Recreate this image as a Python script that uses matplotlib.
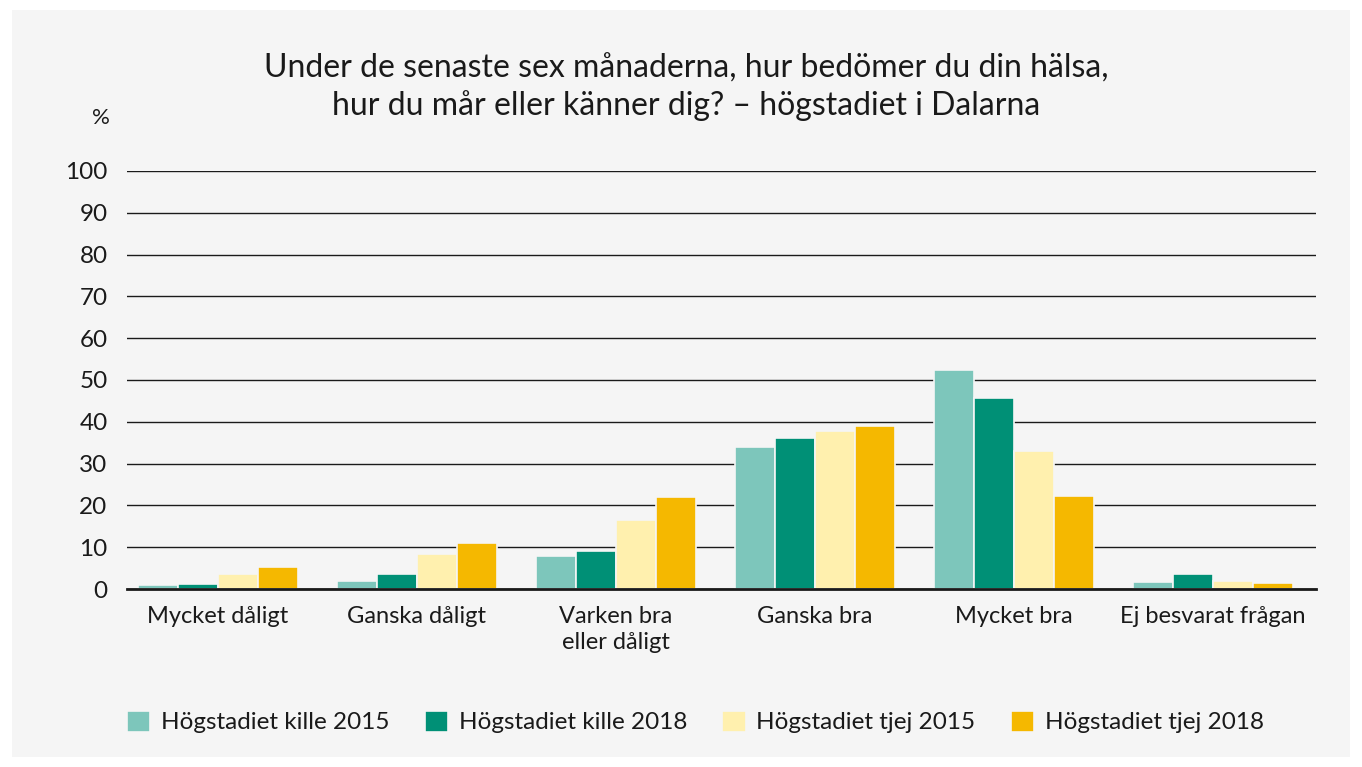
import matplotlib
matplotlib.use("Agg")
import matplotlib.pyplot as plt
import numpy as np
from matplotlib.patches import Rectangle

plt.rcParams["font.family"] = ["Lato", "DejaVu Sans"]

categories = ["Mycket dåligt", "Ganska dåligt", "Varken bra\neller dåligt",
              "Ganska bra", "Mycket bra", "Ej besvarat frågan"]
series_names = ["Högstadiet kille 2015", "Högstadiet kille 2018",
                "Högstadiet tjej 2015", "Högstadiet tjej 2018"]
kille_2015 = [0.9, 1.8, 7.8, 34.0, 52.5, 1.6]
kille_2018 = [1.3, 3.7, 9.0, 36.2, 45.8, 3.5]
tjej_2015 = [3.7, 8.4, 16.5, 37.8, 33.0, 1.8]
tjej_2018 = [5.2, 11.0, 21.9, 39.0, 22.2, 1.4]
colors = ["#7dc6bb", "#009076", "#fff0ae", "#f5b800"]
yticks = list(range(0, 101, 10))

title = ("Under de senaste sex månaderna, hur bedömer du din hälsa,\n"
         "hur du mår eller känner dig? – högstadiet i Dalarna")

fig = plt.figure(figsize=(13.62, 7.67), dpi=100, facecolor="white")
W, H = 1362, 767
fig.patches.append(Rectangle((12 / W, 10 / H), 1338 / W, 747 / H,
                             transform=fig.transFigure, facecolor="#f5f5f5",
                             edgecolor="none", zorder=-10))

ax = fig.add_axes([127 / W, 1 - 589 / H, (1316 - 127) / W, (589 - 171) / H])
ax.set_facecolor("none")

x = np.arange(len(categories))
width = 0.2
all_series = [kille_2015, kille_2018, tjej_2015, tjej_2018]
for i, (vals, col, name) in enumerate(zip(all_series, colors, series_names)):
    ax.bar(x + (i - 1.5) * width, vals, width, color=col, label=name,
           edgecolor="#f5f5f5", linewidth=1.2, zorder=3)

ax.set_ylim(0, 100)
ax.set_xlim(-0.457, 5.518)
ax.set_yticks(yticks)
ax.set_yticklabels([str(v) for v in yticks], fontsize=17.5, color="#1a1a1a")
ax.yaxis.grid(True, color="#1a1a1a", linewidth=1.0, zorder=1)
ax.set_axisbelow(True)
ax.tick_params(axis="y", length=0, pad=14)
ax.tick_params(axis="x", length=0, pad=12)
ax.set_xticks(x)
ax.set_xticklabels(categories, fontsize=17, color="#1a1a1a", linespacing=1.3)
for s in ["top", "right", "left"]:
    ax.spines[s].set_visible(False)
ax.spines["bottom"].set_color("#1a1a1a")
ax.spines["bottom"].set_linewidth(2)
ax.spines["bottom"].set_zorder(4)

fig.text(686 / W, 1 - 87 / H, title, ha="center", va="center", fontsize=23,
         color="#1a1a1a", linespacing=1.25)
fig.text(101 / W, 1 - 118 / H, "%", ha="center", va="center", fontsize=16,
         color="#1a1a1a")

leg = fig.legend(loc="center left", bbox_to_anchor=(127 / W, 1 - 722 / H), ncol=4,
                 frameon=False, fontsize=17.5, handlelength=0.95,
                 handleheight=0.95, handletextpad=0.45, columnspacing=1.45,
                 borderpad=0, borderaxespad=0)
for t in leg.get_texts():
    t.set_color("#1a1a1a")

fig.savefig("out.png", dpi=100, facecolor="white")
